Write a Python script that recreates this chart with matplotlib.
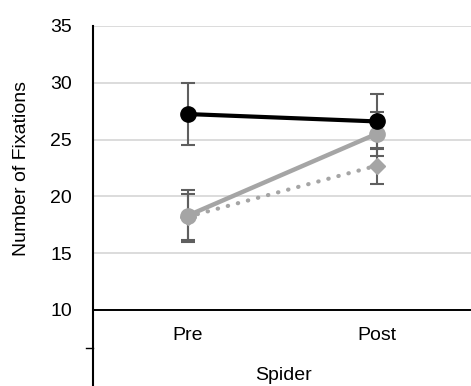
import matplotlib
matplotlib.use('Agg')
import matplotlib.pyplot as plt
from matplotlib.lines import Line2D

plt.rcParams['font.family'] = ['Liberation Sans', 'DejaVu Sans']

# ===== data
conditions = ['Pre', 'Post']
black_mean = [27.25, 26.6]
black_err = [2.75, 2.4]
gray_mean = [18.3, 25.5]
gray_err = [2.3, 1.9]
dotted_mean = [18.2, 22.7]
dotted_err = [2.0, 1.6]
y_ticks = [10, 15, 20, 25, 30, 35]

W, H = 471, 386
fig = plt.figure(figsize=(W / 100, H / 100), dpi=100)
# plot area in pixels: x 93..471, y 26..310
ax = fig.add_axes([93 / W, 1 - 310 / H, (W - 93) / W, (310 - 26) / H])

x = [1, 2]
err_col = '#5f5f5f'
gray = '#a5a5a5'

for m, e in [(dotted_mean, dotted_err), (gray_mean, gray_err), (black_mean, black_err)]:
    ax.errorbar(x, m, yerr=e, fmt='none', ecolor=err_col, elinewidth=1.5,
                capsize=5, capthick=1.5, zorder=2)

ax.plot(x, dotted_mean, color=gray, lw=3, linestyle=(0, (0.1, 2.4)),
        dash_capstyle='round', marker='D', markersize=8.5, zorder=3)
ax.plot(x, gray_mean, color=gray, lw=3.2, marker='o', markersize=11, zorder=4)
ax.plot(x, black_mean, color='black', lw=3, marker='o', markersize=11, zorder=5)

ax.set_xlim(0.5, 2.5)
ax.set_ylim(10, 35)
ax.set_yticks(y_ticks)
ax.set_xticks(x)
ax.set_xticklabels(conditions)
ax.grid(axis='y', color='#d9d9d9', lw=1.3)
ax.set_axisbelow(True)
ax.tick_params(axis='both', length=0, labelsize=14)
ax.tick_params(axis='y', pad=15)
ax.tick_params(axis='x', pad=12)
for s in ['top', 'right']:
    ax.spines[s].set_visible(False)
ax.spines['left'].set_visible(False)
ax.spines['bottom'].set_linewidth(1.4)

ax.set_ylabel('Number of Fixations', fontsize=14)
ax.yaxis.set_label_coords((22 - 93) / (W - 93), 0.5)
ax.yaxis.label.set_va('center')
ax.set_xlabel('Spider', fontsize=14)
ax.xaxis.set_label_coords((283 - 93) / (W - 93), (310 - 376) / (310 - 26))
ax.xaxis.label.set_va('center')

# vertical axis line running down to the bottom edge, plus the small tick
fig.add_artist(Line2D([93 / W, 93 / W], [1 - 26 / H, 0], color='black', lw=1.5))
fig.add_artist(Line2D([86 / W, 93 / W], [1 - 348 / H, 1 - 348 / H], color='black', lw=1.0))

fig.savefig('out.png', dpi=100)
